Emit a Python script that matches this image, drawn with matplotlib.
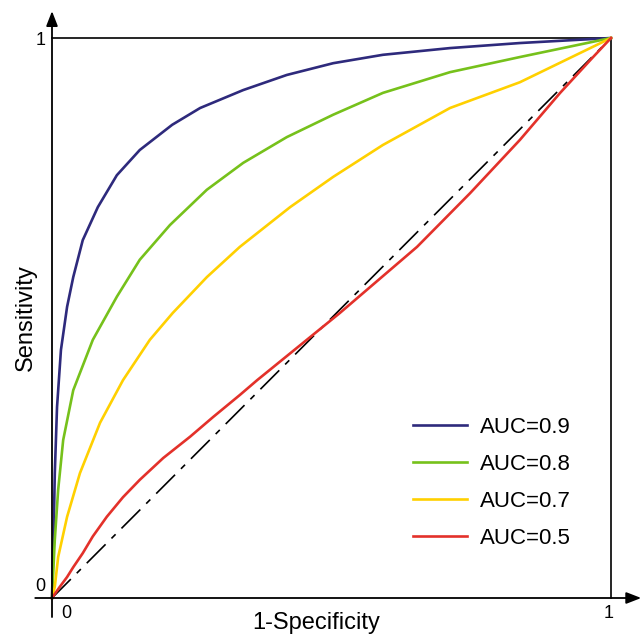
import matplotlib
matplotlib.use('Agg')
import matplotlib.pyplot as plt
import numpy as np

plt.rcParams['font.family'] = ['Liberation Sans', 'DejaVu Sans']

# ROC curves (1-specificity, sensitivity)
fpr_09 = [0, 0.003, 0.005, 0.009, 0.016, 0.027, 0.038, 0.055, 0.082, 0.116, 0.157, 0.215, 0.265,
          0.342, 0.420, 0.503, 0.592, 0.712, 0.837, 1.0]
tpr_09 = [0, 0.120, 0.223, 0.341, 0.443, 0.520, 0.573, 0.639, 0.698, 0.755, 0.800, 0.845, 0.875,
          0.907, 0.934, 0.955, 0.970, 0.982, 0.991, 1.0]

fpr_08 = [0, 0.005, 0.011, 0.020, 0.038, 0.073, 0.116, 0.157, 0.211, 0.277, 0.342, 0.420,
          0.503, 0.592, 0.712, 0.837, 1.0]
tpr_08 = [0, 0.104, 0.193, 0.282, 0.371, 0.461, 0.538, 0.604, 0.666, 0.729, 0.777, 0.823,
          0.863, 0.902, 0.939, 0.966, 1.0]

fpr_07 = [0, 0.005, 0.011, 0.027, 0.050, 0.086, 0.127, 0.175, 0.216, 0.277, 0.336, 0.426,
          0.503, 0.592, 0.712, 0.837, 1.0]
tpr_07 = [0, 0.020, 0.073, 0.145, 0.223, 0.313, 0.389, 0.461, 0.509, 0.573, 0.627, 0.698,
          0.752, 0.809, 0.875, 0.921, 1.0]

fpr_05 = [0, 0.014, 0.027, 0.038, 0.055, 0.073, 0.098, 0.127, 0.157, 0.199, 0.247, 0.288,
          0.336, 0.367, 0.515, 0.653, 0.748, 0.837, 0.909, 0.968, 1.0]
tpr_05 = [0, 0.020, 0.0375, 0.055, 0.080, 0.110, 0.145, 0.180, 0.211, 0.250, 0.288, 0.323,
          0.3625, 0.389, 0.509, 0.627, 0.723, 0.818, 0.902, 0.966, 1.0]

labels = ['AUC=0.9', 'AUC=0.8', 'AUC=0.7', 'AUC=0.5']
colors = ['#2e2a7c', '#76c11b', '#ffd000', '#e3312a']

fig = plt.figure(figsize=(6.44, 6.40), dpi=100)
ax = fig.add_axes([52 / 644, 42 / 640, 559 / 644, 560 / 640])
ax.set_xlim(0, 1)
ax.set_ylim(0, 1)
ax.axis('off')

# chance diagonal
diag, = ax.plot([0, 1], [0, 1], color='black', lw=1.2, zorder=1)
diag.set_dashes((16, 5, 3.5, 5))

curves = [(fpr_09, tpr_09), (fpr_08, tpr_08), (fpr_07, tpr_07), (fpr_05, tpr_05)]
for (x, y), lab, c in zip(curves, labels, colors):
    ax.plot(x, y, color=c, lw=1.9, label=lab, zorder=3, clip_on=False)

# box top / right
ax.plot([0, 1], [1, 1], color='black', lw=1.2, clip_on=False, zorder=2)
ax.plot([1, 1], [0, 1], color='black', lw=1.2, clip_on=False, zorder=2)

# axes with arrows
arrow = dict(arrowstyle='-|>,head_length=0.9,head_width=0.35', lw=1.3, color='black',
             shrinkA=0, shrinkB=0)
ax.annotate('', xy=(0, 1.048), xytext=(0, -0.034), xycoords='data', arrowprops=arrow,
            annotation_clip=False)
ax.annotate('', xy=(1.054, 0), xytext=(-0.030, 0), xycoords='data', arrowprops=arrow,
            annotation_clip=False)

ax.text(-0.021, 0.020, '0', fontsize=13, ha='center', va='center')
ax.text(0.025, -0.027, '0', fontsize=13, ha='center', va='center')
ax.text(-0.021, 0.996, '1', fontsize=13, ha='center', va='center')
ax.text(0.996, -0.027, '1', fontsize=13, ha='center', va='center')

fig.text(26 / 644, 1 - 318 / 640, 'Sensitivity', fontsize=17, rotation=90,
         ha='center', va='center')
fig.text(316 / 644, 1 - 623 / 640, '1-Specificity', fontsize=17, ha='center', va='center')

ax.legend(loc='upper left', bbox_to_anchor=(0.645, 0.323), frameon=False, fontsize=16,
          handlelength=2.45, handletextpad=0.58, labelspacing=0.72, borderpad=0,
          borderaxespad=0)

fig.savefig('out.png', dpi=100)
